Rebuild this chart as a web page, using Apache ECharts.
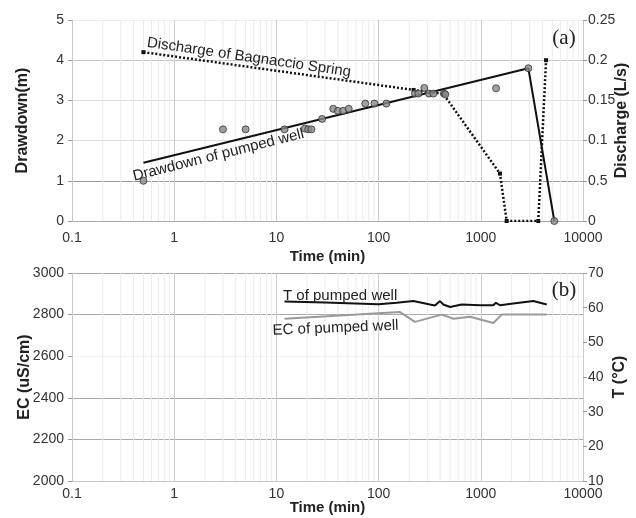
<!DOCTYPE html>
<html>
<head>
<meta charset="utf-8">
<script src="https://cdn.jsdelivr.net/npm/echarts@6/dist/echarts.min.js"></script>
<style>
html,body{margin:0;padding:0;background:#fff;}
#c{width:636px;height:518px;}
</style>
</head>
<body>
<div id="c"></div>
<script>
// ---- tick labels ----
const timeTicks = ['0.1', '1', '10', '100', '1000', '10000'];
const drawdownTicks = ['0', '1', '2', '3', '4', '5'];
const dischargeTicks = ['0', '0.5', '0.1', '0.15', '0.2', '0.25'];
const ecTicks = ['2000', '2200', '2400', '2600', '2800', '3000'];
const tempTicks = ['10', '20', '30', '40', '50', '60', '70'];

// ---- (a) drawdown observations ----
const ddTime  = [0.5, 3, 5, 12, 19, 20.5, 22, 28, 36, 40, 45, 51, 74, 91, 119, 227, 245, 280, 311, 343, 436, 450, 1410, 2920, 5240];
const ddValue = [1.0, 2.28, 2.28, 2.28, 2.3, 2.28, 2.28, 2.54, 2.79, 2.74, 2.74, 2.79, 2.92, 2.92, 2.92, 3.17, 3.17, 3.31, 3.17, 3.17, 3.17, 3.15, 3.30, 3.80, 0];

// ---- (a) drawdown trend line ----
const fitTime  = [0.5, 2920, 5240];
const fitValue = [1.45, 3.8, 0];

// ---- (a) discharge of Bagnaccio Spring ----
const qTime  = [0.5, 220, 430, 1540, 1790, 3650, 4350];
const qValue = [0.21, 0.163, 0.158, 0.059, 0, 0, 0.2];

// ---- (b) temperature of pumped well ----
const tempTime  = [12, 30, 100, 150, 219, 318, 356, 399, 430, 500, 650, 982, 1325, 1408, 1542, 2080, 3264, 4416];
const tempValue = [61.8, 61.5, 61.0, 61.4, 61.9, 60.9, 60.6, 61.9, 60.9, 60.2, 60.9, 60.7, 60.7, 61.4, 60.7, 61.2, 61.9, 60.9];

// ---- (b) EC of pumped well ----
const ecTime  = [12, 162, 227, 414, 539, 650, 784, 1325, 1603, 4416];
const ecValue = [2780, 2812, 2765, 2800, 2780, 2785, 2790, 2760, 2800, 2800];

// minor log gridline positions (2..9 within each decade)
const minorTicks = [];
[0.1, 1, 10, 100, 1000].forEach(d => { for (let k = 2; k <= 9; k++) minorTicks.push(+(d * k).toPrecision(3)); });

const zip = (a, b) => a.map((v, i) => [v, b[i]]);
const FONT = '"Liberation Sans", Arial, sans-serif';
const SERIF = '"Liberation Serif", "Times New Roman", serif';

function xAxisDef(gridIndex, margin, gap) {
  return {
    type: 'log', logBase: 10, gridIndex, min: 0.1, max: 10000,
    name: 'Time (min)', nameLocation: 'middle', nameGap: gap, nameMoveOverlap: false,
    nameTextStyle: { fontFamily: FONT, fontWeight: 'bold', fontSize: 15, color: '#222' },
    axisLine: { show: false }, axisTick: { show: false },
    axisLabel: {
      fontFamily: FONT, fontSize: 14, color: '#333', margin,
      formatter: v => timeTicks[Math.round(Math.log10(v)) + 1]
    },
    splitLine: { show: true, lineStyle: { color: '#cdcdcd', width: 1 } },
    minorTick: { show: false }, minorSplitLine: { show: false }
  };
}

function yAxisDef(opts) {
  return {
    type: 'value', gridIndex: opts.grid, position: opts.pos,
    min: opts.min, max: opts.max, interval: opts.interval,
    name: opts.name, nameLocation: 'middle', nameGap: opts.gap, nameMoveOverlap: false,
    nameTextStyle: { fontFamily: FONT, fontWeight: 'bold', fontSize: 16, color: '#222' },
    axisLine: { show: opts.pos === 'left', lineStyle: { color: '#c8c8c8' } },
    axisTick: { show: true, length: 4, inside: false, lineStyle: { color: '#999' } },
    axisLabel: {
      fontFamily: FONT, fontSize: 14, color: '#333', margin: opts.margin,
      formatter: (v) => opts.ticks[Math.round((v - opts.min) / opts.interval)]
    },
    splitLine: opts.split ? { show: true, lineStyle: { color: opts.split, width: 1 } } : { show: false }
  };
}

const minorSeries = (xIdx, yIdx, yMin) => ({
  type: 'custom', xAxisIndex: xIdx, yAxisIndex: yIdx, silent: true, z: 0,
  data: minorTicks.map(v => [v, yMin]),
  renderItem: (params, api) => {
    const p = api.coord([api.value(0), yMin]);
    const cs = params.coordSys;
    return { type: 'line', shape: { x1: p[0], y1: cs.y, x2: p[0], y2: cs.y + cs.height },
      style: { stroke: '#ebebeb', lineWidth: 1 } };
  }
});

const chart = echarts.init(document.getElementById('c'), null, { renderer: 'canvas' });
chart.setOption({
  animation: false,
  backgroundColor: '#ffffff',
  grid: [
    { left: 72, width: 511, top: 20, height: 201, containLabel: false, outerBoundsMode: 'none' },
    { left: 72, width: 511, top: 273, height: 208, containLabel: false, outerBoundsMode: 'none' }
  ],
  xAxis: [ xAxisDef(0, 10, 28), xAxisDef(1, 6, 19) ],
  yAxis: [
    yAxisDef({ grid: 0, pos: 'left', min: 0, max: 5, interval: 1, ticks: drawdownTicks, name: 'Drawdown(m)', gap: 41, margin: 8,
      split: ['#aaaaaa', '#999999', '#dddddd', '#dddddd', '#c4c4c4', '#eeeeee'] }),
    yAxisDef({ grid: 0, pos: 'right', min: 0, max: 0.25, interval: 0.05, ticks: dischargeTicks, name: 'Discharge (L/s)', gap: 31, margin: 5 }),
    yAxisDef({ grid: 1, pos: 'left', min: 2000, max: 3000, interval: 200, ticks: ecTicks, name: 'EC (uS/cm)', gap: 39, margin: 8,
      split: ['#c8c8c8', '#aaaaaa', '#aaaaaa', '#f2f2f2', '#aaaaaa', '#aaaaaa'] }),
    yAxisDef({ grid: 1, pos: 'right', min: 10, max: 70, interval: 10, ticks: tempTicks, name: 'T (°C)', gap: 29, margin: 5 })
  ],
  series: [
    minorSeries(0, 0, 0),
    minorSeries(1, 2, 2000),
    {
      name: 'Discharge of Bagnaccio Spring', type: 'line', xAxisIndex: 0, yAxisIndex: 1,
      data: zip(qTime, qValue), showSymbol: true, symbol: 'rect', symbolSize: 4,
      itemStyle: { color: '#111' },
      lineStyle: { color: '#111', width: 2.5, type: [2, 2], cap: 'butt' }, z: 3
    },
    {
      name: 'Drawdown trend', type: 'line', xAxisIndex: 0, yAxisIndex: 0,
      data: zip(fitTime, fitValue), showSymbol: false,
      lineStyle: { color: '#111', width: 2 }, z: 4
    },
    {
      name: 'Drawdown of pumped well', type: 'scatter', xAxisIndex: 0, yAxisIndex: 0,
      data: zip(ddTime, ddValue), symbol: 'circle', symbolSize: 7,
      itemStyle: { color: '#8a8a8a', borderColor: '#333', borderWidth: 1 }, z: 5
    },
    {
      name: 'EC of pumped well', type: 'line', xAxisIndex: 1, yAxisIndex: 2,
      data: zip(ecTime, ecValue), showSymbol: false,
      lineStyle: { color: '#9a9a9a', width: 2 }, z: 3
    },
    {
      name: 'T of pumped well', type: 'line', xAxisIndex: 1, yAxisIndex: 3,
      data: zip(tempTime, tempValue), showSymbol: false,
      lineStyle: { color: '#111', width: 2 }, z: 4
    }
  ],
  graphic: [
    { type: 'text', x: 146, y: 50, rotation: -0.145, z: 10,
      style: { text: 'Discharge of Bagnaccio Spring', font: '15px ' + FONT, fill: '#222', align: 'left', verticalAlign: 'bottom' } },
    { type: 'text', x: 135, y: 184, rotation: 0.248, z: 10,
      style: { text: 'Drawdown of pumped well', font: '15px ' + FONT, fill: '#222', align: 'left', verticalAlign: 'bottom' } },
    { type: 'text', x: 283, y: 303, z: 10,
      style: { text: 'T of pumped well', font: '15px ' + FONT, fill: '#222', align: 'left', verticalAlign: 'bottom' } },
    { type: 'text', x: 273, y: 338, rotation: 0.04, z: 10,
      style: { text: 'EC of pumped well', font: '15px ' + FONT, fill: '#222', align: 'left', verticalAlign: 'bottom' } },
    { type: 'text', x: 564, y: 38, z: 10,
      style: { text: '(a)', font: '21px ' + SERIF, fill: '#222', align: 'center', verticalAlign: 'middle' } },
    { type: 'text', x: 564, y: 290, z: 10,
      style: { text: '(b)', font: '21px ' + SERIF, fill: '#222', align: 'center', verticalAlign: 'middle' } }
  ]
});
</script>
</body>
</html>
